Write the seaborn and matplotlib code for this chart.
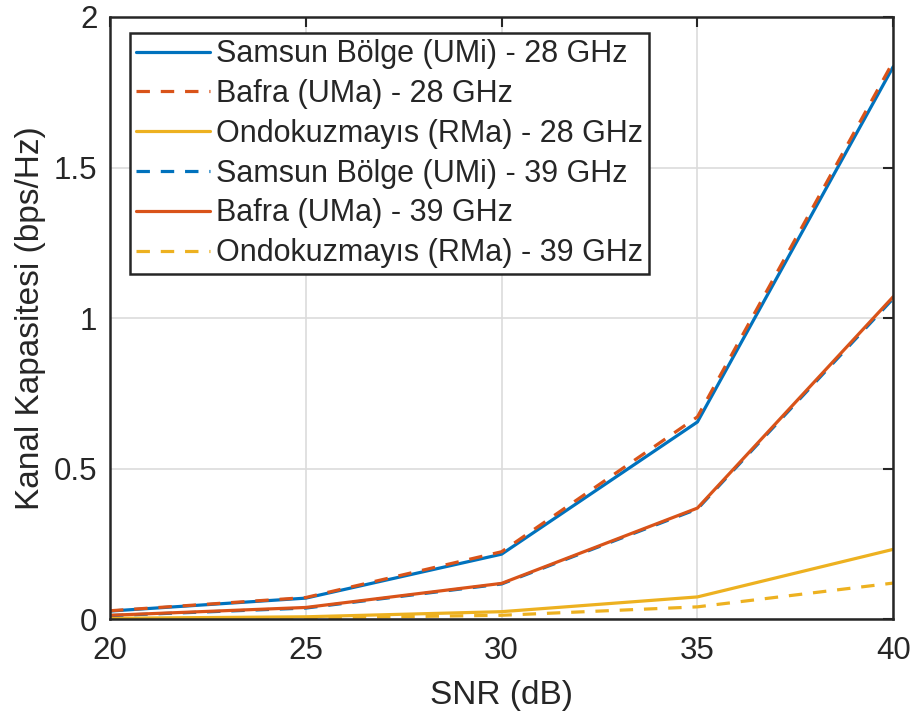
import pandas as pd
import matplotlib
matplotlib.use("Agg")
import matplotlib.pyplot as plt
import seaborn as sns

snr = [20, 25, 30, 35, 40]

# values
samsun_28 = [0.027, 0.070, 0.216, 0.655, 1.835]
bafra_28 = [0.028, 0.072, 0.224, 0.672, 1.852]
ondokuz_28 = [0.003, 0.008, 0.025, 0.074, 0.232]
samsun_39 = [0.012, 0.037, 0.117, 0.366, 1.065]
bafra_39 = [0.013, 0.039, 0.119, 0.369, 1.071]
ondokuz_39 = [0.0013, 0.004, 0.013, 0.041, 0.120]

labels = [
    "Samsun Bölge (UMi) - 28 GHz",
    "Bafra (UMa) - 28 GHz",
    "Ondokuzmayıs (RMa) - 28 GHz",
    "Samsun Bölge (UMi) - 39 GHz",
    "Bafra (UMa) - 39 GHz",
    "Ondokuzmayıs (RMa) - 39 GHz",
]
series = [samsun_28, bafra_28, ondokuz_28, samsun_39, bafra_39, ondokuz_39]
colors = ["#0072BD", "#D95319", "#EDB120", "#0072BD", "#D95319", "#EDB120"]
dashed = [False, True, False, True, False, True]

sns.set_style("white")
plt.rcParams["font.family"] = ["Liberation Sans", "DejaVu Sans"]

fig = plt.figure(figsize=(9.15, 7.2), dpi=100)
ax = fig.add_axes([0.1202, 0.140, 0.856, 0.8364])

for vals, lab, col, dsh in zip(series, labels, colors, dashed):
    df = pd.DataFrame({"SNR": snr, "C": vals})
    line = sns.lineplot(data=df, x="SNR", y="C", ax=ax, color=col,
                        linewidth=2.3, label=lab).lines[-1]
    if dsh:
        line.set_dashes((4.2, 3.4))

ax.set_xlim(20, 40)
ax.set_ylim(0, 2)
ax.set_xticks([20, 25, 30, 35, 40])
ax.set_yticks([0, 0.5, 1, 1.5, 2])
ax.set_yticklabels(["0", "0.5", "1", "1.5", "2"])
ax.grid(True, color="#dcdcdc", linewidth=1.2)
ax.set_axisbelow(True)
ax.tick_params(direction="in", length=7, width=1.5, labelsize=22.5, top=True, right=True,
               color="#262626", labelcolor="#262626", pad=9)
ax.tick_params(axis="x", pad=12)
for sp in ax.spines.values():
    sp.set_linewidth(1.8)
    sp.set_color("#262626")
ax.set_xlabel("SNR (dB)", fontsize=24, color="#262626", labelpad=10)
ax.set_ylabel("Kanal Kapasitesi (bps/Hz)", fontsize=24, color="#262626", labelpad=6)

leg = ax.legend(loc="upper left", bbox_to_anchor=(0.026, 0.973), fontsize=22,
                frameon=True, fancybox=False, handlelength=2.4, handletextpad=0.2,
                labelspacing=0.32, borderpad=0.2, borderaxespad=0)
leg.get_frame().set_edgecolor("#262626")
leg.get_frame().set_linewidth(1.8)
leg.get_frame().set_alpha(1)

fig.savefig("out.png", dpi=100)
